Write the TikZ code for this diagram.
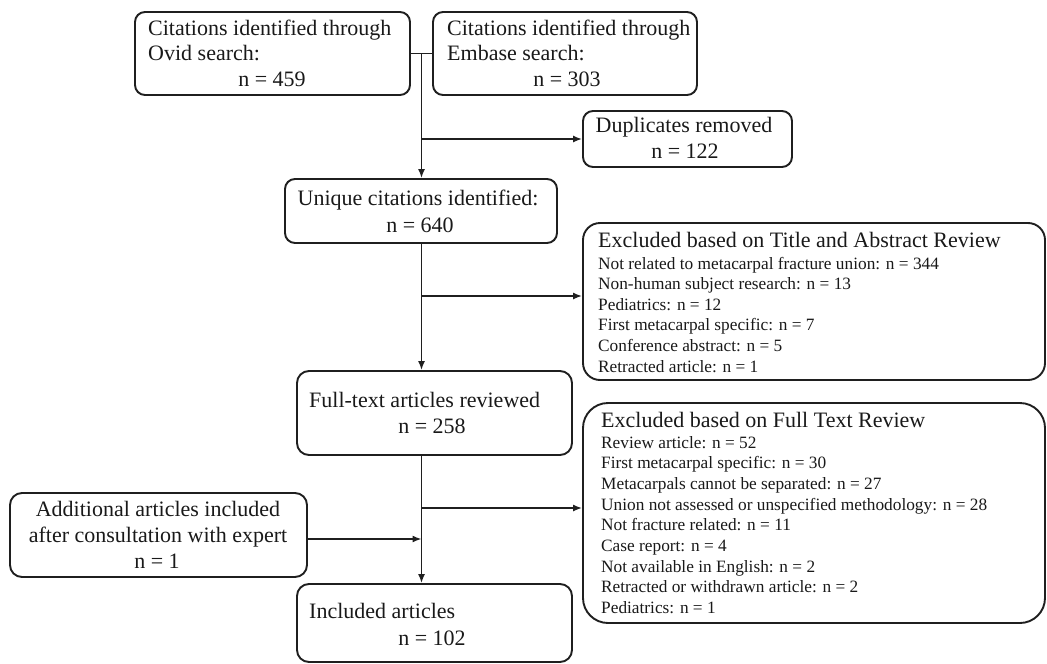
\documentclass[tikz,border=0pt]{standalone}
\usepackage{fontspec}
\setmainfont{Liberation Serif}
\usetikzlibrary{arrows.meta,calc}
\begin{document}
\begin{tikzpicture}[x=1pt,y=-1pt,
  box/.style={draw=black!88, line width=1.9pt, rounded corners=10pt, inner sep=0pt},
  conn/.style={draw=black!88, line width=1.5pt},
  arr/.style={conn, -{Latex[length=9pt,width=7pt]}},
  big/.style={inner sep=0pt, text=black!90, font=\fontsize{22}{25}\selectfont},
  small/.style={inner sep=0pt, text=black!90, anchor=base west, font=\fontsize{17.3}{20.6}\selectfont},
]
\useasboundingbox (0,0) rectangle (1047,664);

% boxes
\node[box, minimum width=275pt, minimum height=83pt] (ovid) at (272.5,53.5) {};
\node[box, minimum width=264pt, minimum height=83pt] (embase) at (565,53.5) {};
\node[box, minimum width=209pt, minimum height=56pt] (dup) at (687.5,139) {};
\node[box, minimum width=272pt, minimum height=64pt] (unique) at (421,211) {};
\node[box, rounded corners=17pt, minimum width=462pt, minimum height=157pt] (excl1) at (814,301.5) {};
\node[box, rounded corners=12pt, minimum width=275pt, minimum height=84pt] (full) at (434.5,413) {};
\node[box, rounded corners=25pt, minimum width=462pt, minimum height=220pt] (excl2) at (814,513) {};
\node[box, rounded corners=12pt, minimum width=297pt, minimum height=84pt] (add) at (158.5,535) {};
\node[box, rounded corners=12pt, minimum width=275pt, minimum height=78pt] (incl) at (434.5,623) {};

% texts
\node[big, anchor=base west] (o1) at (148,35) {Citations identified through};
\node[big, anchor=base west] (o2) at (148,60) {Ovid search:};
\node[big, anchor=base] (o3) at (272,86) {n = 459};
\node[big, anchor=base west] (e1) at (447,35) {Citations identified through};
\node[big, anchor=base west] (e2) at (447,60) {Embase search:};
\node[big, anchor=base] (e3) at (567,86) {n = 303};
\node[big, anchor=base] (d1) at (684,132) {Duplicates removed};
\node[big, anchor=base] (d2) at (685,158) {n = 122};
\node[big, anchor=base] (u1) at (418,205) {Unique citations identified:};
\node[big, anchor=base] (u2) at (420,232) {n = 640};
\node[big, anchor=base west] (f1) at (309,407) {Full-text articles reviewed};
\node[big, anchor=base] (f2) at (432,433) {n = 258};
\node[big, anchor=base] (a1) at (158,516) {Additional articles included};
\node[big, anchor=base] (a2) at (158,542) {after consultation with expert};
\node[big, anchor=base] (a3) at (157,568) {n = 1};
\node[big, anchor=base west] (i1) at (309,618) {Included articles};
\node[big, anchor=base] (i2) at (432,645) {n = 102};

\node[big, anchor=base west] (h1) at (598,247) {Excluded based on Title and Abstract Review};
\foreach \t [count=\i] in {Not related to metacarpal fracture union: n = 344,
  Non-human subject research: n = 13, Pediatrics: n = 12,
  First metacarpal specific: n = 7, Conference abstract: n = 5,
  Retracted article: n = 1}
  \node[small] (ta\i) at (598,{269+20.6*(\i-1)}) {\t};

\node[big, anchor=base west] (h2) at (601,427) {Excluded based on Full Text Review};
\foreach \t [count=\i] in {Review article: n = 52, First metacarpal specific: n = 30,
  Metacarpals cannot be separated: n = 27,
  Union not assessed or unspecified methodology: n = 28,
  Not fracture related: n = 11, Case report: n = 4,
  Not available in English: n = 2, Retracted or withdrawn article: n = 2,
  Pediatrics: n = 1}
  \node[small] (tb\i) at (601,{448+20.7*(\i-1)}) {\t};

% connectors
\coordinate (j1) at ($(ovid.east)!0.5!(embase.west)$);
\coordinate (b2) at (421.5,296);
\coordinate (b3) at (421.5,508);
\coordinate (b4) at (421.5,539);
\draw[conn] (ovid.east) -- (embase.west);
\draw[arr] (j1) -- (j1 |- unique.north);
\draw[arr] (j1 |- dup.west) -- (dup.west);
\draw[arr] (unique.south -| j1) -- (full.north -| j1);
\draw[arr] (b2) -- (b2 -| excl1.west);
\draw[arr] (full.south -| j1) -- (incl.north -| j1);
\draw[arr] (b3) -- (b3 -| excl2.west);
\draw[arr] (add.east |- b4) -- (b4);
\end{tikzpicture}
\end{document}
